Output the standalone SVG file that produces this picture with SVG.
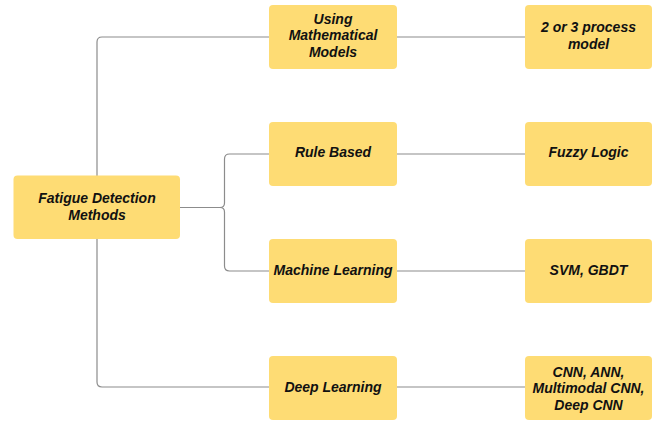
<svg xmlns="http://www.w3.org/2000/svg" width="656" height="422" viewBox="0 0 656 422">
<style>
.box{fill:#FEDC74;}
.t{font-family:"Liberation Sans",Arial,sans-serif;font-size:14px;font-weight:bold;font-style:italic;fill:#111111;text-anchor:middle;}
.c{fill:none;stroke:#8c8c8c;stroke-width:1.2;}
</style>
<rect width="656" height="422" fill="#ffffff"/>
<g id="connectors">
<path class="c" d="M97,176 V42 Q97,37 102,37 H269"/>
<path class="c" d="M97,239 V382 Q97,387 102,387 H269"/>
<path class="c" d="M180,207.5 H220 Q224.5,207.5 224.5,203 V159 Q224.5,154 229.5,154 H269"/>
<path class="c" d="M220,207.5 Q224.5,207.5 224.5,212 V266 Q224.5,271 229.5,271 H269"/>
<path class="c" d="M397,37 H525"/>
<path class="c" d="M397,154 H525"/>
<path class="c" d="M397,271 H525"/>
<path class="c" d="M397,387 H525"/>
</g>
<g id="fatigue">
<rect class="box" x="13.5" y="175.5" width="166.5" height="63.5" rx="4"/>
<text class="t" x="97" y="203">Fatigue Detection</text>
<text class="t" x="97" y="219.5">Methods</text>
</g>
<g id="math">
<rect class="box" x="269" y="5" width="128" height="64" rx="4"/>
<text class="t" x="333" y="23.5">Using</text>
<text class="t" x="333" y="40">Mathematical</text>
<text class="t" x="333" y="56.5">Models</text>
</g>
<g id="rule">
<rect class="box" x="269" y="122" width="128" height="64" rx="4"/>
<text class="t" x="333" y="157">Rule Based</text>
</g>
<g id="ml">
<rect class="box" x="269" y="239" width="128" height="64" rx="4"/>
<text class="t" x="333" y="274.5">Machine Learning</text>
</g>
<g id="dl">
<rect class="box" x="269" y="356" width="128" height="64" rx="4"/>
<text class="t" x="333" y="391.5">Deep Learning</text>
</g>
<g id="process">
<rect class="box" x="525" y="5" width="127" height="64" rx="4"/>
<text class="t" x="588.5" y="32">2 or 3 process</text>
<text class="t" x="588.5" y="48.5">model</text>
</g>
<g id="fuzzy">
<rect class="box" x="525" y="122" width="127" height="64" rx="4"/>
<text class="t" x="588.5" y="157">Fuzzy Logic</text>
</g>
<g id="svm">
<rect class="box" x="525" y="239" width="127" height="64" rx="4"/>
<text class="t" x="588.5" y="274.5">SVM, GBDT</text>
</g>
<g id="cnn">
<rect class="box" x="525" y="356" width="127" height="64" rx="4"/>
<text class="t" x="588.5" y="376.5">CNN, ANN,</text>
<text class="t" x="588.5" y="393">Multimodal CNN,</text>
<text class="t" x="588.5" y="409.5">Deep CNN</text>
</g>
</svg>
